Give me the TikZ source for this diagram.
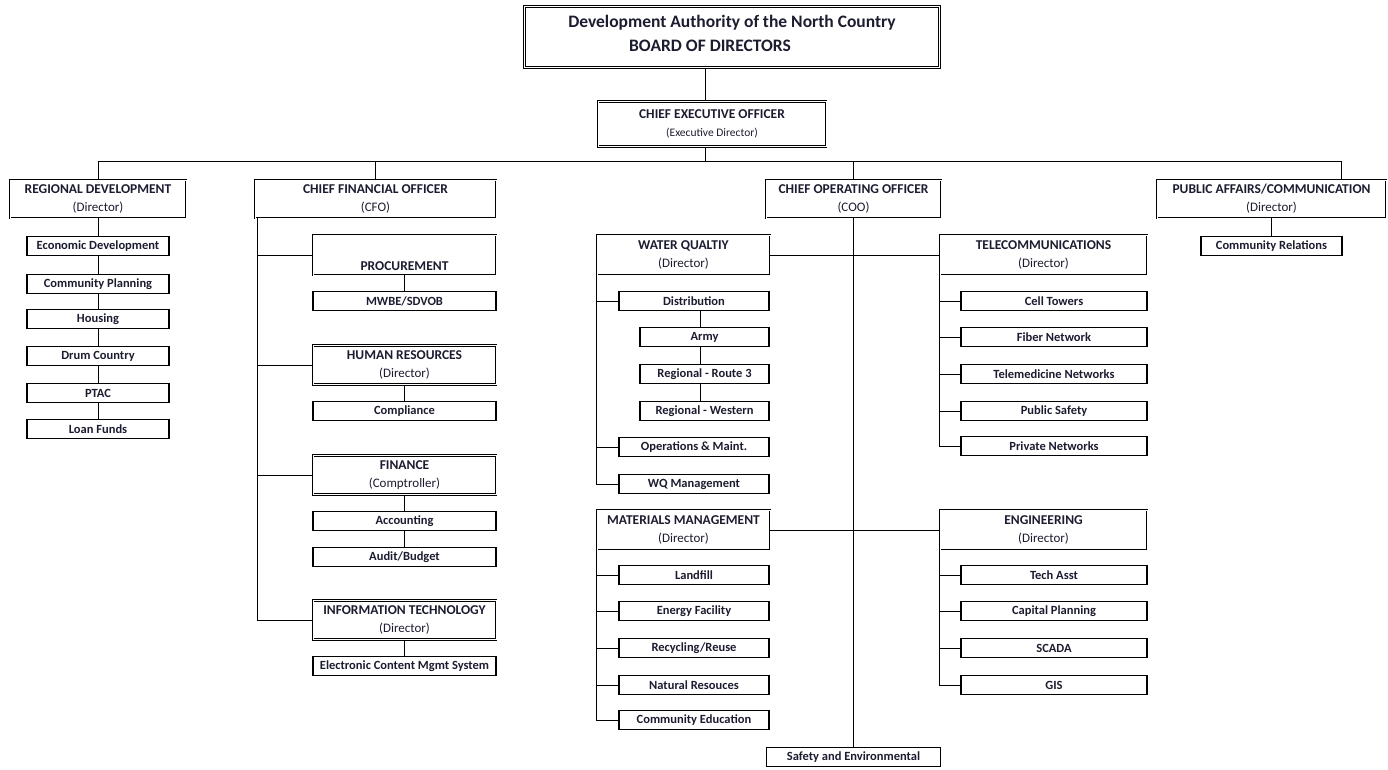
\documentclass[tikz,border=0pt]{standalone}
\usepackage{fontspec}
\setmainfont{Carlito}
\usepackage{tikz}
\usetikzlibrary{calc}
\definecolor{ink}{RGB}{28,28,48}
\newcommand{\hdsize}{\fontsize{13.5}{18}\selectfont}
\newcommand{\sbsize}{\fontsize{12.5}{14}\selectfont}
\newcommand{\hd}[2]{\textbf{#1}\\{\fontsize{13}{18}\selectfont #2}}
\tikzset{
  headbox/.style={draw=black, double, double distance=1pt, line width=0.8pt, inner sep=0pt, align=center, font=\hdsize, text=ink},
  subbox/.style={draw=black, line width=1.9pt, inner sep=0pt, align=center, minimum height=19pt, font=\sbsize\bfseries, text=ink},
  link/.style={draw=black, line width=1pt}
}

\begin{document}
\begin{tikzpicture}[x=1pt, y=-1pt]
\useasboundingbox (0,0) rectangle (1388,769);
% ---- top of the chart ----
\node[headbox, minimum width=415pt, minimum height=61pt, font=\fontsize{17.5}{24}\selectfont\bfseries] (board) at (732,37) {Development Authority of the North Country\\BOARD OF DIRECTORS\hspace*{44pt}\strut};
\node[headbox, minimum width=228pt, minimum height=45pt] (ceo) at (712,124) {\textbf{CHIEF EXECUTIVE OFFICER}\\{\fontsize{11.5}{18}\selectfont (Executive Director)}};
\coordinate (bus) at (705,161);
\coordinate (padrop) at (1341,161);

% ---- second row ----
\node[headbox, minimum width=176pt, minimum height=38pt] (regdev) at (98,199) {\hd{REGIONAL DEVELOPMENT}{(Director)}};
\node[headbox, minimum width=241pt, minimum height=38pt] (cfo) at (375.5,199) {\hd{CHIEF FINANCIAL OFFICER}{(CFO)}};
\node[headbox, minimum width=175pt, minimum height=38pt] (coo) at (853.5,199) {\hd{CHIEF OPERATING OFFICER}{(COO)}};
\node[headbox, minimum width=229pt, minimum height=38pt] (pubaff) at (1271.5,199) {\hd{PUBLIC AFFAIRS/COMMUNICATION}{(Director)}};

% ---- regional development ----
\node[subbox, minimum width=142pt] (econ) at (98,246) {Economic Development};
\node[subbox, minimum width=142pt] (cplan) at (98,284) {Community Planning};
\node[subbox, minimum width=142pt] (housing) at (98,319) {Housing};
\node[subbox, minimum width=142pt] (drum) at (98,356) {Drum Country};
\node[subbox, minimum width=142pt] (ptac) at (98,393) {PTAC};
\node[subbox, minimum width=142pt] (loan) at (98,429) {Loan Funds};

% ---- chief financial officer ----
\node[headbox, minimum width=183pt, minimum height=40pt] (proc) at (404.5,255) {\textbf{\strut}\\\textbf{PROCUREMENT}};
\node[subbox, minimum width=183pt] (mwbe) at (404.5,301) {MWBE/SDVOB};
\node[headbox, minimum width=183pt, minimum height=39pt] (hr) at (404.5,365) {\hd{HUMAN RESOURCES}{(Director)}};
\node[subbox, minimum width=183pt] (comp) at (404.5,411) {Compliance};
\node[headbox, minimum width=183pt, minimum height=39pt] (fin) at (404.5,475) {\hd{FINANCE}{(Comptroller)}};
\node[subbox, minimum width=183pt] (acct) at (404.5,521) {Accounting};
\node[subbox, minimum width=183pt] (audit) at (404.5,557) {Audit/Budget};
\node[headbox, minimum width=183pt, minimum height=39pt] (it) at (404.5,620) {\hd{INFORMATION TECHNOLOGY}{(Director)}};
\node[subbox, minimum width=183pt] (ecm) at (404.5,666) {Electronic Content Mgmt System};

% ---- water quality / telecom ----
\node[headbox, minimum width=173pt, minimum height=40pt] (wq) at (683.5,255) {\hd{WATER QUALTIY}{(Director)}};
\node[subbox, minimum width=150pt] (dist) at (694,301) {Distribution};
\node[subbox, minimum width=129pt] (army) at (704.5,337) {Army};
\node[subbox, minimum width=129pt] (route) at (704.5,374) {Regional - Route 3};
\node[subbox, minimum width=129pt] (west) at (704.5,411) {Regional - Western};
\node[subbox, minimum width=150pt] (ops) at (694,447) {Operations \& Maint.};
\node[subbox, minimum width=150pt] (wqm) at (694,484) {WQ Management};
\node[headbox, minimum width=207pt, minimum height=40pt] (tel) at (1043.5,255) {\hd{TELECOMMUNICATIONS}{(Director)}};
\node[subbox, minimum width=186pt] (cell) at (1054,301) {Cell Towers};
\node[subbox, minimum width=186pt] (fiber) at (1054,337) {Fiber Network};
\node[subbox, minimum width=186pt] (telemed) at (1054,374) {Telemedicine Networks};
\node[subbox, minimum width=186pt] (psafe) at (1054,411) {Public Safety};
\node[subbox, minimum width=186pt] (priv) at (1054,446) {Private Networks};

% ---- materials / engineering ----
\node[headbox, minimum width=173pt, minimum height=40pt] (mm) at (683.5,530) {\hd{MATERIALS MANAGEMENT}{(Director)}};
\node[subbox, minimum width=150pt] (landfill) at (694,575) {Landfill};
\node[subbox, minimum width=150pt] (energy) at (694,611) {Energy Facility};
\node[subbox, minimum width=150pt] (recyc) at (694,648) {Recycling/Reuse};
\node[subbox, minimum width=150pt] (natres) at (694,685) {Natural Resouces};
\node[subbox, minimum width=150pt] (cedu) at (694,720) {Community Education};
\node[headbox, minimum width=207pt, minimum height=40pt] (eng) at (1043.5,530) {\hd{ENGINEERING}{(Director)}};
\node[subbox, minimum width=186pt] (tech) at (1054,575) {Tech Asst};
\node[subbox, minimum width=186pt] (capplan) at (1054,611) {Capital Planning};
\node[subbox, minimum width=186pt] (scada) at (1054,648) {SCADA};
\node[subbox, minimum width=186pt] (gis) at (1054,685) {GIS};
\node[subbox, minimum width=174pt] (safety) at (853.5,757) {Safety and Environmental};

% ---- public affairs ----
\node[subbox, minimum width=141pt] (crel) at (1271.5,246) {Community Relations};

% ---- connectors ----
\draw[link] (board.south -| bus) -- (ceo.north -| bus);
\draw[link] (ceo.south -| bus) -- (bus);
\draw[link] (regdev.north) |- (padrop) -- (padrop |- pubaff.north);
\draw[link] (cfo.north) -- (cfo.north |- bus);
\draw[link] (coo.north) -- (coo.north |- bus);
\draw[link] (pubaff.south) -- (crel.north);
\draw[link] (coo.south) -- (safety.north);
\foreach \a/\b in {regdev/econ, econ/cplan, cplan/housing, housing/drum, drum/ptac, ptac/loan}
  \draw[link] (\a.south) -- (\b.north);
% cfo
\coordinate (cfospine) at ([xshift=3pt]cfo.south west);
\draw[link] (cfospine) |- (it.west);
\foreach \n in {proc, hr, fin}
  \draw[link] (\n.west -| cfospine) -- (\n.west);
\foreach \a/\b in {proc/mwbe, hr/comp, fin/acct, acct/audit, it/ecm}
  \draw[link] (\a.south) -- (\b.north);
% coo
\draw[link] (wq.east) -- (tel.west);
\draw[link] (mm.east) -- (eng.west);
\draw[link] (wq.south west) |- (wqm.west);
\foreach \n in {dist, ops}
  \draw[link] (\n.west -| wq.south west) -- (\n.west);
\coordinate (wqchain) at (700,0);
\foreach \a/\b in {dist/army, army/route, route/west}
  \draw[link] (\a.south -| wqchain) -- (\b.north -| wqchain);
\draw[link] (tel.south west) |- (priv.west);
\foreach \n in {cell, fiber, telemed, psafe}
  \draw[link] (\n.west -| tel.south west) -- (\n.west);
\draw[link] (mm.south west) |- (cedu.west);
\foreach \n in {landfill, energy, recyc, natres}
  \draw[link] (\n.west -| mm.south west) -- (\n.west);
\draw[link] (eng.south west) |- (gis.west);
\foreach \n in {tech, capplan, scada}
  \draw[link] (\n.west -| eng.south west) -- (\n.west);
\end{tikzpicture}
\end{document}
